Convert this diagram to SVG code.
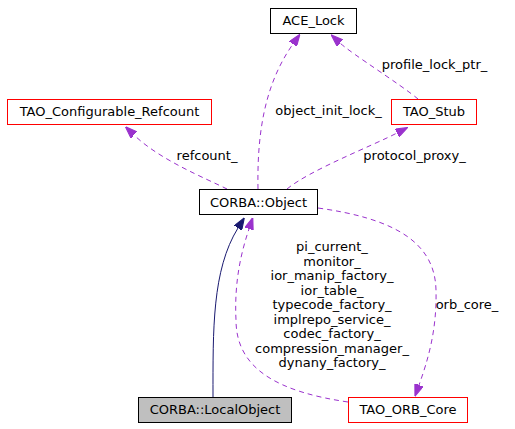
<svg xmlns="http://www.w3.org/2000/svg" width="515" height="429" viewBox="0 0 515 429">
<style>
text { font-family: "DejaVu Sans", "Liberation Sans", sans-serif; font-size: 13px; fill: #000; }
.n { text-anchor: middle; }
.box { fill: #fff; stroke: #000; stroke-width: 1; }
.red { fill: #fff; stroke: #ff0000; stroke-width: 1; }
.grey { fill: #bfbfbf; stroke: #000; stroke-width: 1; }
.use { fill: none; stroke: #9a32cd; stroke-width: 1; stroke-dasharray: 5,4; }
.inh { fill: none; stroke: #191970; stroke-width: 1; }
</style>
<defs>
<marker id="ap" markerUnits="userSpaceOnUse" markerWidth="12" markerHeight="9" viewBox="0 0 11 8" refX="0" refY="4" orient="auto">
<path d="M0,0 L11,4 L0,8 z" fill="#9a32cd" stroke="#9a32cd"/>
</marker>
<marker id="an" markerUnits="userSpaceOnUse" markerWidth="12" markerHeight="9" viewBox="0 0 11 8" refX="0" refY="4" orient="auto">
<path d="M0,0 L11,4 L0,8 z" fill="#191970" stroke="#191970"/>
</marker>
</defs>
<g id="connectors">
<path class="inh" d="M213,397 C213,330 212,270 238,228" marker-end="url(#an)"/>
<path class="use" d="M348,402 C280,392 236,370 236,320 C234,280 242,250 249,229" marker-end="url(#ap)"/>
<path class="use" d="M258,189 C257,135 264,85 293,44" marker-end="url(#ap)"/>
<path class="use" d="M418,99 C400,84 352,54 340,43" marker-end="url(#ap)"/>
<path class="use" d="M227,189 C205,178 160,160 134,135" marker-end="url(#ap)"/>
<path class="use" d="M287,189 C310,170 372,146 397,133" marker-end="url(#ap)"/>
<path class="use" d="M318,208 C390,218 435,240 436,290 C437,330 428,360 419,385" marker-end="url(#ap)"/>
<text class="n" x="328.5" y="115">object_init_lock_</text>
<text class="n" x="434.5" y="69">profile_lock_ptr_</text>
<text class="n" x="207" y="160">refcount_</text>
<text class="n" x="414.5" y="160">protocol_proxy_</text>
<text class="n" x="467" y="309">orb_core_</text>
<text class="n" x="332" y="251">pi_current_</text>
<text class="n" x="332" y="265.5">monitor_</text>
<text class="n" x="332" y="280">ior_manip_factory_</text>
<text class="n" x="332" y="294.5">ior_table_</text>
<text class="n" x="332" y="309">typecode_factory_</text>
<text class="n" x="332" y="323.5">implrepo_service_</text>
<text class="n" x="332" y="338">codec_factory_</text>
<text class="n" x="332" y="352.5">compression_manager_</text>
<text class="n" x="332" y="367">dynany_factory_</text>
</g>
<g id="ACE_Lock">
<rect class="box" x="270.5" y="8.5" width="86" height="25"/>
<text class="n" x="313.5" y="25">ACE_Lock</text>
</g>
<g id="TAO_Configurable_Refcount">
<rect class="red" x="7.5" y="99.5" width="204" height="25"/>
<text class="n" x="109.5" y="116">TAO_Configurable_Refcount</text>
</g>
<g id="TAO_Stub">
<rect class="red" x="391.5" y="99.5" width="85" height="25"/>
<text class="n" x="434" y="116">TAO_Stub</text>
</g>
<g id="CORBA_Object">
<rect class="box" x="199.5" y="189.5" width="118" height="25"/>
<text class="n" x="258.5" y="207">CORBA::Object</text>
</g>
<g id="CORBA_LocalObject">
<rect class="grey" x="138.5" y="397.5" width="153" height="25"/>
<text class="n" x="215" y="414">CORBA::LocalObject</text>
</g>
<g id="TAO_ORB_Core">
<rect class="red" x="348.5" y="397.5" width="119" height="25"/>
<text class="n" x="408" y="414">TAO_ORB_Core</text>
</g>
</svg>
